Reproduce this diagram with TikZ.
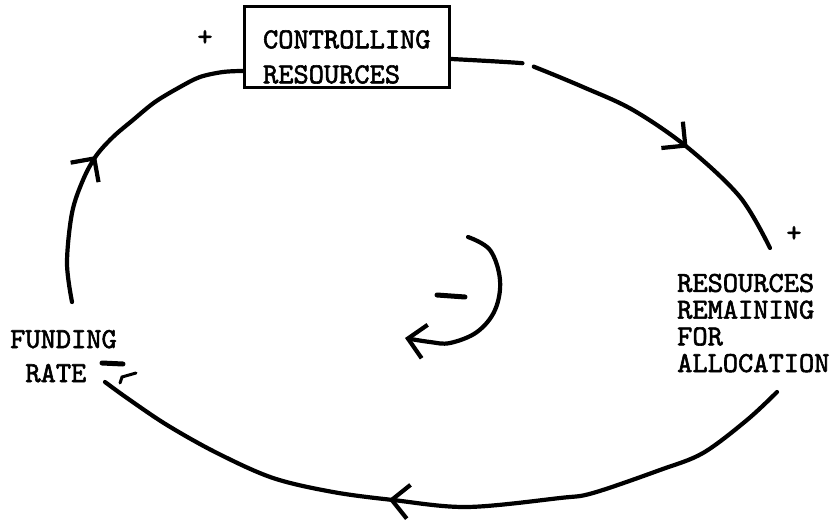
\documentclass[tikz,border=0pt]{standalone}
\usepackage{fontspec}
\newfontfamily\typewriter{lmmono10-regular.otf}[FakeBold=2]
\usetikzlibrary{arrows.meta,decorations.markings}
\begin{document}
\begin{tikzpicture}[x=1pt,y=-1pt,
  ink/.style={line width=4.2pt, line cap=round, line join=round},
  barb/.tip={Straight Barb[length=17pt,width=34pt]},
  midarrow/.style={postaction={decorate},
    decoration={markings, mark=at position #1 with {\arrow{barb}}}},
  lbl/.style={inner sep=0pt, align=left},
  twfont/.style={font=\typewriter\fontsize{29}{#1}\selectfont},
  ctrlbox/.style={draw, line width=2.6pt, inner xsep=17pt, inner ysep=4pt,
    align=left, minimum width=205pt},
  polmark/.style={line width=5pt, line cap=round},
]
% canvas
\fill[white] (0,0) rectangle (836,525);
\useasboundingbox (0,0) rectangle (836,525);

% variables
\node[ctrlbox, twfont=35, anchor=north west] (ctrl) at (243,5)
  {\rule{0pt}{38pt}CONTROLLING\\RESOURCES};
\node[lbl, twfont=26.7, anchor=base west] (remain) at (677,372)
  {RESOURCES\\REMAINING\\FOR\\ALLOCATION};
\node[lbl, twfont=34, anchor=base west] (fund) at (10,382)
  {FUNDING\\\hphantom{F}RATE};

% link polarities
\node[twfont=26, inner sep=0pt] (plusctrl) at (205,38) {+};
\node[twfont=26, inner sep=0pt] (plusrem) at (794,234) {+};

% free ends of the links
\coordinate (trEnd) at (770,248);
\coordinate (botStart) at (777,392);
\coordinate (botEnd) at (105,382);
\coordinate (leftStart) at (72,302);
\coordinate (loopStart) at (468,237);
\coordinate (loopEnd) at (405,338);

% controlling resources -> resources remaining
\draw[ink, dash pattern=on 72pt off 12pt on 2000pt, midarrow=0.663]
  plot[smooth, tension=0.55] coordinates {([yshift=-12pt]ctrl.east) (520,63)
    (532,66) (583,87) (633,110) (687,147) (740,197) (trEnd)};

% resources remaining -> funding rate
\draw[ink, midarrow=0.573]
  plot[smooth, tension=0.55] coordinates {(botStart) (747,420) (703,453)
    (660,470) (593,493) (560,498) (467,507) (393,500) (333,492) (273,478)
    (217,453) (167,425) (127,398) (botEnd)};

% funding rate -> controlling resources
\draw[ink, midarrow=0.464]
  plot[smooth, tension=0.55] coordinates {(leftStart) (67,263) (72,213)
    (83,180) (96,156) (113,137) (133,120) (155,102) (180,87) (200,77)
    (223,72) ([yshift=-24pt]ctrl.west)};

% loop direction
\draw[ink, -{barb}]
  plot[smooth, tension=0.6] coordinates {(loopStart) (490,250) (500,280)
    (495,310) (477,332) (450,343) (430,342) (loopEnd)};

% hand-drawn negative signs
\draw[polmark] (437,295) -- (465,297);
\draw[polmark] (102,363) -- (123,364);
\draw[line width=3pt, line cap=round] (120,383) -- (122,377) -- (136,373);
\end{tikzpicture}
\end{document}
